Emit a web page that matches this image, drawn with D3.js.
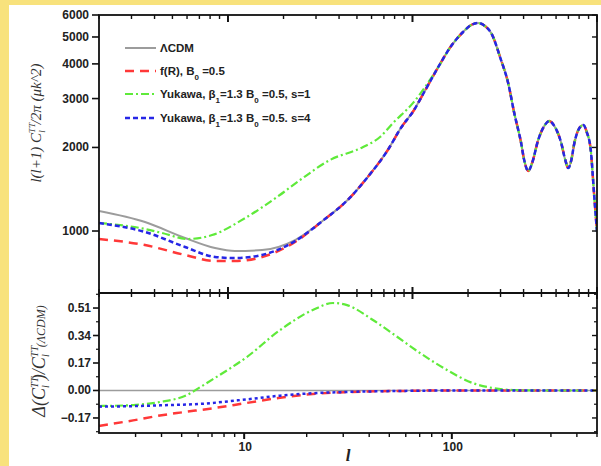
<!DOCTYPE html>
<html>
<head>
<meta charset="utf-8">
<script src="https://cdn.jsdelivr.net/npm/d3@7"></script>
<style>
  body { margin: 0; background: #f8e27c; }
  svg { display: block; }
  .tl { font-family: "Liberation Sans", Arial, sans-serif; font-weight: bold; font-size: 12px; fill: #222; }
  .lg { font-family: "Liberation Sans", Arial, sans-serif; font-weight: bold; font-size: 11.5px; fill: #222; }
</style>
</head>
<body>
<script>
// ---- upper panel: l(l+1)C_l/2pi ----
// low-l part of each model, before they merge
var lcdmL = [2, 3.55, 5.85, 8.51, 10.9, 15.3, 23.1];
var lcdmV = [1180, 1077, 944, 868, 847, 854, 928];
var fRL = [2, 3.55, 5.85, 8.51, 10.9, 15.3, 23.1];
var fRV = [936, 890, 820, 780, 780, 806, 913];
var yuk4L = [2, 3.55, 5.85, 8.51, 10.9, 15.3, 23.1];
var yuk4V = [1069, 992, 876, 806, 799, 820, 920];
var yuk1L = [2, 3.55, 4.39, 6.07, 8.2, 12.4, 19.1, 24.6, 35.7, 54, 66.7, 78.4, 101];
var yuk1V = [1069, 1017, 984, 936, 967, 1114, 1348, 1527, 1802, 2006, 2181, 2449, 2900];
// shared acoustic-peak part
var tailL = [33, 44.5, 57.2, 73.5, 86.5, 102, 115, 137, 162, 188, 208, 227, 247, 267, 302, 330, 356, 388, 403, 424,
             445, 480, 518, 551, 587, 640, 673, 699, 726, 754, 792, 843, 880, 925, 965, 1000];
var tailV = [1095, 1293, 1565, 1958, 2350, 2729, 3142, 3866, 4638, 5211, 5523, 5616, 5477, 5168, 4130, 3413, 2661, 2075, 1803, 1645,
             1758, 2127, 2391, 2490, 2391, 2075, 1803, 1686, 1803, 2075, 2311, 2410, 2273, 1958, 1350, 992];

// ---- lower panel: relative difference to LCDM ----
var dLcdmL = [2, 500];
var dLcdmV = [0, 0];
var dFRL = [2, 2.92, 3.93, 4.91, 7.08, 10.3, 14.9, 21.4, 31.3, 56.3, 97.4, 500];
var dFRV = [-0.219, -0.185, -0.155, -0.137, -0.11, -0.077, -0.045, -0.022, -0.01, -0.003, 0, 0];
var dYuk4L = [2, 2.92, 3.93, 6.13, 10.3, 14.9, 21.4, 31.3, 56.3, 97.4, 500];
var dYuk4V = [-0.1, -0.097, -0.092, -0.083, -0.055, -0.032, -0.017, -0.009, -0.003, 0, 0];
var dYuk1L = [2, 2.92, 3.93, 5.31, 6.13, 7.08, 10.3, 14.9, 21.4, 26.8, 31.3, 41.7, 52.1, 70.2, 94.7, 126, 158, 197, 265, 500];
var dYuk1V = [-0.096, -0.09, -0.071, -0.028, 0.02, 0.07, 0.207, 0.374, 0.498, 0.541, 0.528, 0.436, 0.35, 0.232, 0.127, 0.046, 0.015, 0.003, 0, 0];

// ticks
var yTopTicks = [1000, 2000, 3000, 4000, 5000, 6000];
var yBotTicks = [-0.17, 0, 0.17, 0.34, 0.51];
var yBotMinor = [-0.255, -0.085, 0.085, 0.255, 0.425, 0.595];
var xTopTicks = [2, 3, 4, 5, 6, 7, 8, 9, 10, 20, 30, 40, 50, 60, 70, 80, 90, 100, 200, 300, 400, 500, 600, 700, 800, 900, 1000];
var xBotTicks = [3, 4, 5, 6, 7, 8, 9, 10, 20, 30, 40, 50, 60, 70, 80, 90, 100, 200, 300, 400, 500];
var xBotLabels = [10, 100];

var W = 601, H = 466;
var L = 99, R = 597, T = 15, M = 293, B = 433;

var svg = d3.select("body").append("svg").attr("width", W).attr("height", H);
svg.append("rect").attr("width", W).attr("height", H).attr("fill", "#f8e27c");
svg.append("rect").attr("x", 9).attr("y", 5).attr("width", W - 9).attr("height", H - 5).attr("fill", "#fff");

var xTop = d3.scaleLog().domain([2, 1000]).range([L, R]);
var yTop = d3.scaleLog().domain([598, 6000]).range([M, T]);
var xBot = d3.scaleLog().domain([2, 500]).range([L, R]);
var yBot = d3.scaleLinear().domain([-0.263, 0.603]).range([B, M]);

function zip(a, b) { return a.map(function(d, i) { return [d, b[i]]; }); }
function isMajor(d) { return Math.abs(Math.log10(d) - Math.round(Math.log10(d))) < 1e-9; }

var styles = [
  {name: "lcdm", color: "#9c9c9c", dash: null, w: 2},
  {name: "fr", color: "#ff3838", dash: "9,6", w: 2.5},
  {name: "y1", color: "#5fea3a", dash: "8,3,2,3", w: 2.2},
  {name: "y4", color: "#2626e6", dash: "5,3", w: 2.5}
];

// clip
svg.append("clipPath").attr("id", "cTop").append("rect").attr("x", L).attr("y", T).attr("width", R - L).attr("height", M - T);
svg.append("clipPath").attr("id", "cBot").append("rect").attr("x", L).attr("y", M).attr("width", R - L).attr("height", B - M);

var lineTop = d3.line().x(function(d) { return xTop(d[0]); }).y(function(d) { return yTop(d[1]); }).curve(d3.curveMonotoneX);
var lineBot = d3.line().x(function(d) { return xBot(d[0]); }).y(function(d) { return yBot(d[1]); }).curve(d3.curveMonotoneX);

var topSeries = [
  zip(lcdmL.concat(tailL), lcdmV.concat(tailV)),
  zip(fRL.concat(tailL), fRV.concat(tailV)),
  zip(yuk1L.concat(tailL.slice(7)), yuk1V.concat(tailV.slice(7))),
  zip(yuk4L.concat(tailL), yuk4V.concat(tailV))
];
var botSeries = [zip(dLcdmL, dLcdmV), zip(dFRL, dFRV), zip(dYuk1L, dYuk1V), zip(dYuk4L, dYuk4V)];

var gTop = svg.append("g").attr("clip-path", "url(#cTop)");
gTop.selectAll("path").data(topSeries).join("path")
  .attr("d", lineTop).attr("fill", "none")
  .attr("stroke", function(d, i) { return styles[i].color; })
  .attr("stroke-width", function(d, i) { return styles[i].w; })
  .attr("stroke-dasharray", function(d, i) { return styles[i].dash; });

var gBot = svg.append("g").attr("clip-path", "url(#cBot)");
gBot.selectAll("path").data(botSeries).join("path")
  .attr("d", lineBot).attr("fill", "none")
  .attr("stroke", function(d, i) { return styles[i].color; })
  .attr("stroke-width", function(d, i) { return i == 0 ? 1.6 : styles[i].w; })
  .attr("stroke-dasharray", function(d, i) { return i == 3 ? "3,3" : styles[i].dash; });

// tick helper: draws short lines at scale positions
function hTicks(vals, scale, y, up, down) {
  svg.append("g").selectAll("line").data(vals).join("line")
    .attr("x1", function(d) { return scale(d); }).attr("x2", function(d) { return scale(d); })
    .attr("y1", function(d) { return y - up(d); }).attr("y2", function(d) { return y + down(d); })
    .attr("stroke", "#111").attr("stroke-width", function(d) { return isMajor(d) ? 2 : 1.4; });
}
function vTicks(vals, scale, x, left, right, sw) {
  svg.append("g").selectAll("line").data(vals).join("line")
    .attr("y1", function(d) { return scale(d); }).attr("y2", function(d) { return scale(d); })
    .attr("x1", x - left).attr("x2", x + right)
    .attr("stroke", "#111").attr("stroke-width", sw);
}

// top edge: inward ticks
hTicks(xTopTicks, xTop, T, function() { return 0; }, function(d) { return isMajor(d) ? 7 : 4; });
// shared edge: ticks crossing
hTicks(xTopTicks, xTop, M, function(d) { return isMajor(d) ? 6 : 4; }, function(d) { return isMajor(d) ? 6 : 4; });
// bottom edge: outward ticks
hTicks(xBotTicks, xBot, B, function() { return 0; }, function(d) { return isMajor(d) ? 6 : 4; });

vTicks(yTopTicks, yTop, L, 7, 0, 1.6);
vTicks(yTopTicks, yTop, R, 5, 0, 1.4);
vTicks(yBotTicks, yBot, L, 6, 0, 1.6);
vTicks(yBotMinor, yBot, L, 3, 0, 1.2);
vTicks(yBotTicks, yBot, R, 5, 0, 1.4);
vTicks(yBotMinor, yBot, R, 3, 0, 1.2);

// frame
svg.append("rect").attr("x", L).attr("y", T).attr("width", R - L).attr("height", B - T)
  .attr("fill", "none").attr("stroke", "#111").attr("stroke-width", 1.8);
svg.append("line").attr("x1", L).attr("x2", R).attr("y1", M).attr("y2", M).attr("stroke", "#111").attr("stroke-width", 2);

// tick labels
svg.append("g").selectAll("text").data(yTopTicks).join("text").attr("class", "tl")
  .attr("x", 89).attr("y", function(d) { return yTop(d) + 4; }).attr("text-anchor", "end")
  .text(function(d) { return d; });
svg.append("g").selectAll("text").data(yBotTicks).join("text").attr("class", "tl")
  .attr("x", 91).attr("y", function(d) { return yBot(d) + 4; }).attr("text-anchor", "end")
  .text(function(d) { return d3.format(".2f")(d); });
svg.append("g").selectAll("text").data(xBotLabels).join("text").attr("class", "tl")
  .attr("x", function(d) { return xBot(d) + 1; }).attr("y", 451).attr("text-anchor", "middle")
  .text(function(d) { return d; });

// axis titles
var serif = "'Liberation Serif', 'Times New Roman', serif";
svg.append("text").attr("x", 348).attr("y", 461).attr("text-anchor", "middle")
  .style("font-family", serif).style("font-style", "italic").style("font-weight", "bold")
  .style("font-size", "17px").attr("fill", "#222").text("l");

var yt = svg.append("text").attr("transform", "translate(41,123) rotate(-90)").attr("text-anchor", "middle")
  .style("font-family", serif).style("font-style", "italic").style("font-size", "15px").attr("fill", "#333");
yt.append("tspan").text("l(l+1) C");
yt.append("tspan").attr("dy", -6).style("font-size", "9px").text("TT");
yt.append("tspan").attr("dx", -10).attr("dy", 10).style("font-size", "9px").text("l");
yt.append("tspan").attr("dx", 6).attr("dy", -4).text("/2π (μk^2)");

var yb = svg.append("text").attr("transform", "translate(45,361) rotate(-90)").attr("text-anchor", "middle")
  .style("font-family", serif).style("font-style", "italic").style("font-size", "18px").attr("fill", "#333");
yb.append("tspan").text("Δ(C");
yb.append("tspan").attr("dy", -7).style("font-size", "10px").text("TT");
yb.append("tspan").attr("dx", -11).attr("dy", 11).style("font-size", "10px").text("l");
yb.append("tspan").attr("dx", 5).attr("dy", -4).text(")/C");
yb.append("tspan").attr("dy", -7).style("font-size", "10px").text("TT");
yb.append("tspan").attr("dx", -11).attr("dy", 11).style("font-size", "10px").text("l");
yb.append("tspan").attr("dx", 7).attr("dy", -4).style("font-size", "12px").text("(ΛCDM)");

// legend
var legendRows = [48, 71, 94, 118];
var lgX1 = 125, lgX2 = 156, lgTx = 160;
var lg = svg.append("g");
lg.selectAll("line").data(styles).join("line")
  .attr("x1", lgX1).attr("x2", lgX2)
  .attr("y1", function(d, i) { return legendRows[i]; }).attr("y2", function(d, i) { return legendRows[i]; })
  .attr("stroke", function(d) { return d.color; }).attr("stroke-width", function(d) { return d.w; })
  .attr("stroke-dasharray", function(d) { return d.dash; });

function legendText(i, parts) {
  var t = lg.append("text").attr("class", "lg").attr("x", lgTx).attr("y", legendRows[i] + 4);
  parts.forEach(function(p) {
    var s = t.append("tspan").text(p[0]);
    if (p[1]) s.attr("baseline-shift", "sub").style("font-size", "8px");
  });
}
legendText(0, [["ΛCDM"]]);
legendText(1, [["f(R), B"], ["0", 1], [" =0.5"]]);
legendText(2, [["Yukawa, β"], ["1", 1], ["=1.3 B"], ["0", 1], [" =0.5, s=1"]]);
legendText(3, [["Yukawa, β"], ["1", 1], ["=1.3 B"], ["0", 1], [" =0.5. s=4"]]);
</script>
</body>
</html>
